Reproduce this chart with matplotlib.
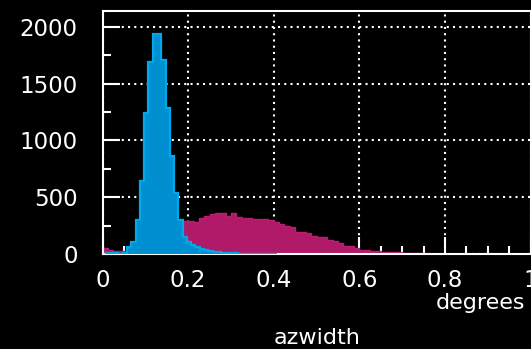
import numpy as np
import matplotlib
matplotlib.use("Agg")
import matplotlib.pyplot as plt
from matplotlib.ticker import MultipleLocator

# ------------------------------------------------------------------------------
# Data (counts per bin).
# ------------------------------------------------------------------------------

blue_start = 0.007
blue_width = 0.01
blue_counts = [
    12, 8, 5, 4, 6, 60, 110, 300, 640, 1240,
    1690, 1940, 1940, 1710, 1290, 860, 540, 300, 150, 110,
    80, 60, 45, 35, 26, 20, 15, 11, 8, 6,
    5, 4, 3, 2, 2, 1, 1, 1, 0, 0,
]

pink_start = 0.0
pink_width = 0.0125
pink_counts = [
    50, 35, 30, 25, 25, 30, 40, 60, 80, 110,
    140, 180, 220, 260, 285, 294, 289, 280, 320, 335,
    352, 358, 358, 335, 358, 329, 318, 313, 310, 308,
    305, 300, 286, 260, 250, 241, 191, 191, 186, 163,
    151, 151, 123, 115, 100, 70, 70, 55, 35, 35,
    26, 24, 18, 18, 16, 14, 10, 8, 6, 5,
    4, 3, 3, 2, 2, 1, 1, 1, 0, 0,
]

x_label = "azwidth"
unit_label = "degrees"

blue_edges = blue_start + blue_width * np.arange(len(blue_counts) + 1)
pink_edges = pink_start + pink_width * np.arange(len(pink_counts) + 1)

# ------------------------------------------------------------------------------
# Figure.
# ------------------------------------------------------------------------------

plt.rcParams["font.family"] = ["DejaVu Sans"]
fig = plt.figure(figsize=(5.31, 3.49), dpi=100, facecolor="black")
ax = fig.add_axes([0.1932, 0.2722, 0.806, 0.6963], facecolor="black")

ax.stairs(pink_counts, pink_edges, fill=True, color="#b01a68", zorder=2)
ax.stairs(pink_counts, pink_edges, color="#b8206e", linewidth=1.0, zorder=2)
ax.stairs(blue_counts, blue_edges, fill=True, color="#008fd0", zorder=3)
ax.stairs(blue_counts, blue_edges, color="#00a8ec", linewidth=1.6, zorder=3)

ax.set_xlim(0, 1.0)
ax.set_ylim(0, 2141)

ax.xaxis.set_major_locator(MultipleLocator(0.2))
ax.xaxis.set_minor_locator(MultipleLocator(0.05))
ax.yaxis.set_major_locator(MultipleLocator(500))
ax.yaxis.set_minor_locator(MultipleLocator(250))
ax.xaxis.set_major_formatter(lambda v, p: "0" if v == 0 else ("1" if abs(v - 1) < 1e-9 else f"{v:.1f}"))

ax.tick_params(which="both", direction="in", colors="white", width=1.5,
               labelsize=16.5, top=False, right=False)
ax.tick_params(which="major", length=12)
ax.tick_params(which="minor", length=6)
ax.tick_params(axis="y", pad=18)
ax.tick_params(axis="x", pad=11)

ax.grid(True, which="major", color="white", linestyle=(0, (1, 2)), linewidth=1.5, zorder=1)
ax.set_axisbelow(True)

for side in ["left", "top", "bottom", "right"]:
    ax.spines[side].set_color("white")
    ax.spines[side].set_linewidth(1.5)

ax.set_xlabel(x_label, color="white", fontsize=16, labelpad=26)
ax.text(0.988, -0.2, unit_label, transform=ax.transAxes, color="white",
        fontsize=16, ha="right", va="center")

fig.savefig("out.png", dpi=100, facecolor="black")
